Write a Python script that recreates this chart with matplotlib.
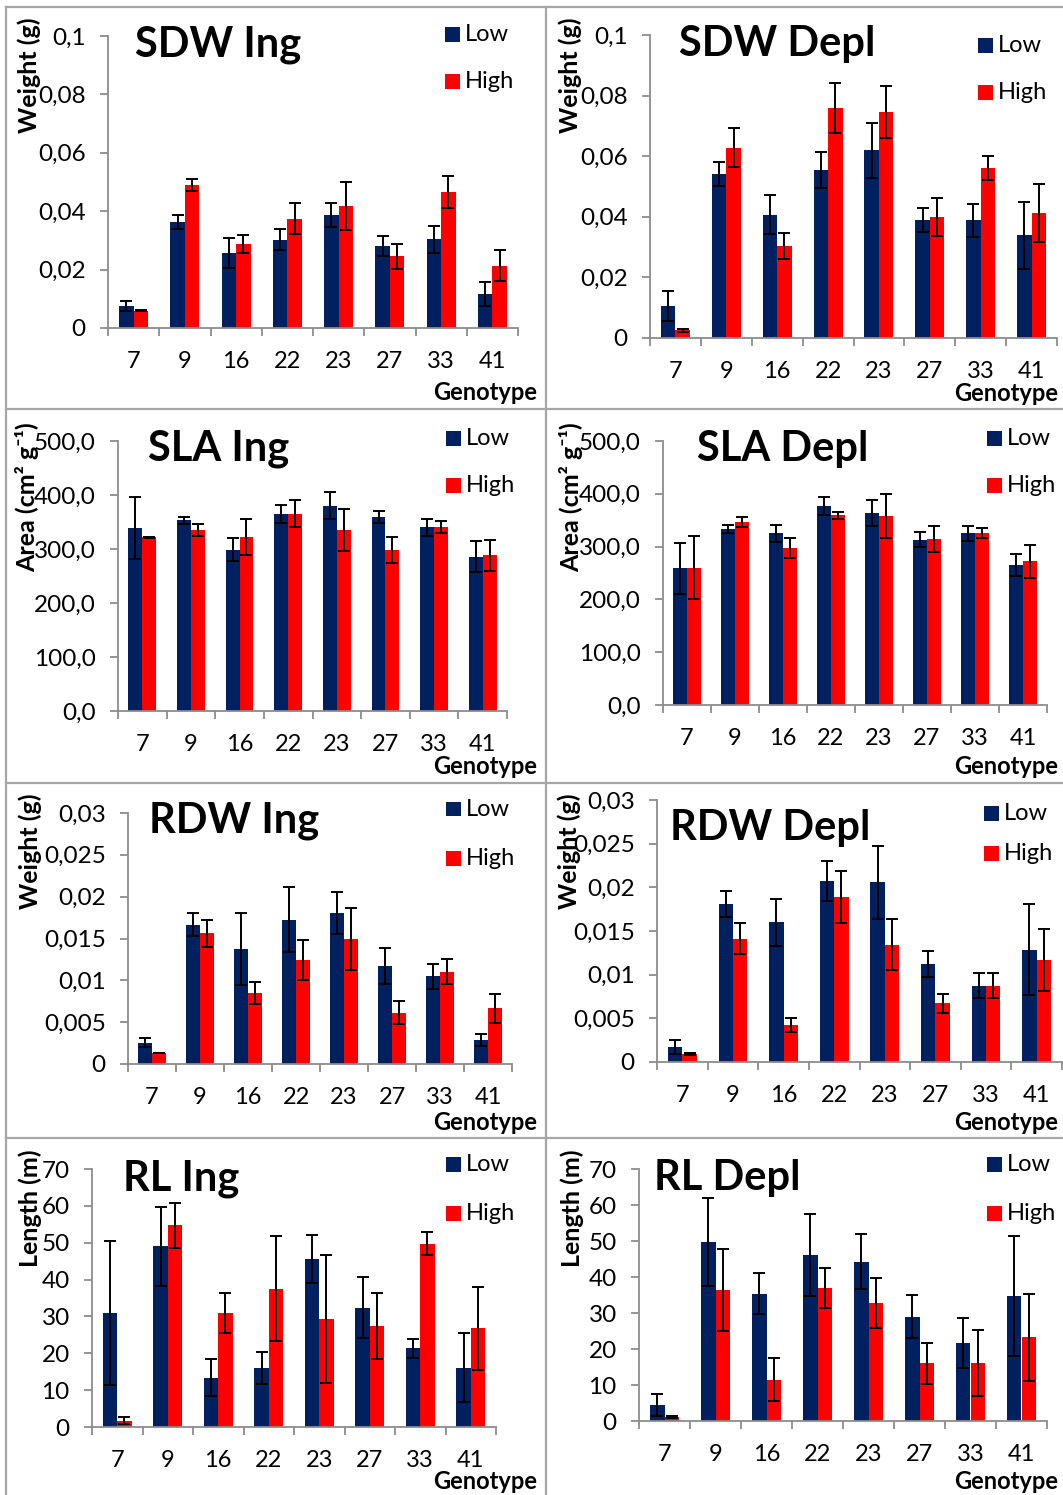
import matplotlib
matplotlib.use('Agg')
import matplotlib.pyplot as plt
from matplotlib.patches import Rectangle
from matplotlib.lines import Line2D
import numpy as np

plt.rcParams['font.family'] = ['Lato', 'DejaVu Sans']

# ---------------- data ----------------
genotypes = ['7', '9', '16', '22', '23', '27', '33', '41']

sdw_ing_low = [0.0076, 0.0363, 0.0257, 0.0303, 0.0387, 0.0282, 0.0304, 0.0117]
sdw_ing_low_err = [0.0018, 0.0025, 0.0050, 0.0035, 0.0040, 0.0034, 0.0046, 0.0040]
sdw_ing_high = [0.0059, 0.0489, 0.0287, 0.0375, 0.0417, 0.0245, 0.0466, 0.0214]
sdw_ing_high_err = [0.0002, 0.0020, 0.0030, 0.0053, 0.0082, 0.0042, 0.0054, 0.0053]

sdw_depl_low = [0.0105, 0.0542, 0.0407, 0.0554, 0.0619, 0.0390, 0.0388, 0.0339]
sdw_depl_low_err = [0.0050, 0.0040, 0.0065, 0.0060, 0.0091, 0.0040, 0.0055, 0.0110]
sdw_depl_high = [0.0025, 0.0628, 0.0304, 0.0759, 0.0747, 0.0399, 0.0561, 0.0412]
sdw_depl_high_err = [0.0004, 0.0064, 0.0043, 0.0081, 0.0086, 0.0064, 0.0040, 0.0095]

sla_ing_low = [339, 353, 299, 365, 380, 360, 340, 286]
sla_ing_low_err = [57, 6, 21, 16, 25, 11, 15, 28]
sla_ing_high = [322, 335, 322, 365, 335, 299, 341, 288]
sla_ing_high_err = [1, 11, 34, 25, 39, 24, 11, 29]

sla_depl_low = [259, 333, 325, 376, 364, 313, 325, 265]
sla_depl_low_err = [48, 8, 16, 17, 25, 14, 14, 21]
sla_depl_high = [260, 347, 298, 359, 358, 314, 326, 272]
sla_depl_high_err = [60, 9, 19, 7, 42, 25, 9, 31]

rdw_ing_low = [0.00255, 0.01665, 0.01375, 0.01725, 0.01809, 0.01171, 0.01048, 0.00291]
rdw_ing_low_err = [0.0005, 0.0014, 0.0043, 0.0039, 0.0025, 0.0021, 0.0015, 0.0007]
rdw_ing_high = [0.00131, 0.01562, 0.00845, 0.01239, 0.01498, 0.00614, 0.01104, 0.00665]
rdw_ing_high_err = [0.00005, 0.0016, 0.0013, 0.0024, 0.0037, 0.0014, 0.0015, 0.0017]

rdw_depl_low = [0.00172, 0.01813, 0.01599, 0.02069, 0.02057, 0.01126, 0.00874, 0.01286]
rdw_depl_low_err = [0.0008, 0.0015, 0.0027, 0.0023, 0.0042, 0.0015, 0.0014, 0.0052]
rdw_depl_high = [0.00088, 0.01412, 0.00420, 0.01889, 0.01344, 0.00672, 0.00874, 0.01168]
rdw_depl_high_err = [0.0001, 0.0018, 0.0008, 0.0030, 0.0029, 0.0011, 0.0014, 0.0035]

rl_ing_low = [31.0, 49.0, 13.4, 16.1, 45.7, 32.4, 21.3, 16.1]
rl_ing_low_err = [19.5, 10.7, 5.0, 4.3, 6.5, 8.2, 2.5, 9.4]
rl_ing_high = [1.7, 54.7, 31.0, 37.5, 29.4, 27.4, 49.7, 26.8]
rl_ing_high_err = [1.0, 6.2, 5.4, 14.2, 17.4, 8.9, 3.1, 11.2]

rl_depl_low = [4.4, 49.7, 35.4, 46.1, 44.3, 29.0, 21.7, 34.7]
rl_depl_low_err = [3.1, 12.3, 5.6, 11.3, 7.7, 6.0, 7.0, 16.6]
rl_depl_high = [1.1, 36.3, 11.5, 36.9, 32.7, 16.1, 16.2, 23.2]
rl_depl_high_err = [0.2, 11.4, 5.9, 5.6, 6.9, 5.7, 9.2, 12.0]

sdw_ticks = [0, 0.02, 0.04, 0.06, 0.08, 0.1]
sdw_ticklabels = ['0', '0,02', '0,04', '0,06', '0,08', '0,1']
sla_ticks = [0, 100, 200, 300, 400, 500]
sla_ticklabels = ['0,0', '100,0', '200,0', '300,0', '400,0', '500,0']
rdw_ticks = [0, 0.005, 0.01, 0.015, 0.02, 0.025, 0.03]
rdw_ticklabels = ['0', '0,005', '0,01', '0,015', '0,02', '0,025', '0,03']
rl_ticks = [0, 10, 20, 30, 40, 50, 60, 70]
rl_ticklabels = ['0', '10', '20', '30', '40', '50', '60', '70']

series_labels = ['Low', 'High']
xlabel_text = 'Genotype'

# ---------------- layout ----------------
W, H = 1063, 1495
fig = plt.figure(figsize=(W / 100, H / 100), dpi=100)
fig.patch.set_facecolor('white')

def fx(x):
    return x / W

def fy(y):
    return 1 - y / H

LOW_C = '#002060'
HIGH_C = '#FF0000'
AXC = '#8C8C8C'

panels = [
    ('SDW Ing', 'Weight (g)', sdw_ing_low, sdw_ing_low_err, sdw_ing_high, sdw_ing_high_err,
     sdw_ticks, sdw_ticklabels, (108, 36, 518, 328), (218, 57), (29, 75), (445, 27, 74), (537, 400)),
    ('SDW Depl', 'Weight (g)', sdw_depl_low, sdw_depl_low_err, sdw_depl_high, sdw_depl_high_err,
     sdw_ticks, sdw_ticklabels, (650, 35, 1057, 338), (777, 56), (570, 75), (978, 38, 85), (1058, 401)),
    ('SLA Ing', 'Area (cm² g⁻¹)', sla_ing_low, sla_ing_low_err, sla_ing_high, sla_ing_high_err,
     sla_ticks, sla_ticklabels, (118, 441, 507, 711), (219, 461), (27, 497), (446, 431, 478), (537, 774)),
    ('SLA Depl', 'Area (cm² g⁻¹)', sla_depl_low, sla_depl_low_err, sla_depl_high, sla_depl_high_err,
     sla_ticks, sla_ticklabels, (663, 441, 1047, 705), (783, 461), (571, 497), (987, 431, 478), (1058, 774)),
    ('RDW Ing', 'Weight (g)', rdw_ing_low, rdw_ing_low_err, rdw_ing_high, rdw_ing_high_err,
     rdw_ticks, rdw_ticklabels, (128, 813, 512, 1064), (234, 832), (30, 851), (446, 802, 851), (537, 1130)),
    ('RDW Depl', 'Weight (g)', rdw_depl_low, rdw_depl_low_err, rdw_depl_high, rdw_depl_high_err,
     rdw_ticks, rdw_ticklabels, (657, 800, 1062, 1062), (770, 840), (569, 851), (984, 806, 846), (1058, 1130)),
    ('RL Ing', 'Length (m)', rl_ing_low, rl_ing_low_err, rl_ing_high, rl_ing_high_err,
     rl_ticks, rl_ticklabels, (92, 1169, 496, 1427), (181, 1190), (30, 1208), (446, 1157, 1206), (537, 1489)),
    ('RL Depl', 'Length (m)', rl_depl_low, rl_depl_low_err, rl_depl_high, rl_depl_high_err,
     rl_ticks, rl_ticklabels, (639, 1169, 1047, 1421), (727, 1190), (572, 1208), (987, 1157, 1206), (1058, 1489)),
]

# panel borders
border_kw = dict(color='#A6A6A6', lw=1.6, transform=fig.transFigure)
for yy in [7, 409, 783, 1138]:
    fig.add_artist(Line2D([fx(6), fx(1063)], [fy(yy), fy(yy)], **border_kw))
for xx in [6, 546]:
    fig.add_artist(Line2D([fx(xx), fx(xx)], [fy(7), fy(1495)], **border_kw))

x = np.arange(len(genotypes))
bw = 0.285

for (title, ylab, low, lowe, high, highe, ticks, tlabels, (l, t, r, b),
     (tcx, tby), (ycx, ycy), (lgx, lgy1, lgy2), (gx, gy)) in panels:
    ax = fig.add_axes([fx(l), fy(b), (r - l) / W, (b - t) / H])
    ekw = dict(ecolor='black', elinewidth=1.4, capsize=4.5, capthick=1.4)
    ax.bar(x - bw / 2, low, bw, yerr=lowe, color=LOW_C, error_kw=ekw, zorder=2)
    ax.bar(x + bw / 2, high, bw, yerr=highe, color=HIGH_C, error_kw=ekw, zorder=2)
    ax.set_xlim(-0.5, len(genotypes) - 0.5)
    ax.set_ylim(ticks[0], ticks[-1])
    ax.set_yticks(ticks)
    ax.set_yticklabels(tlabels)
    ax.set_xticks(np.arange(len(genotypes) + 1) - 0.5)
    ax.set_xticklabels([])
    ax.set_xticks(x, minor=True)
    ax.set_xticklabels(genotypes, minor=True)
    for s in ['top', 'right']:
        ax.spines[s].set_visible(False)
    for s in ['left', 'bottom']:
        ax.spines[s].set_color(AXC)
        ax.spines[s].set_linewidth(1.3)
    ax.tick_params(axis='y', which='major', direction='out', length=6, width=1.3,
                   color=AXC, labelsize=17.5, pad=10, labelcolor='black')
    ax.tick_params(axis='x', which='major', direction='out', length=6, width=1.3, color=AXC)
    ax.tick_params(axis='x', which='minor', length=0, labelsize=17, pad=16.5, labelcolor='black')
    ax.patch.set_alpha(0)

    fig.text(fx(tcx), fy(tby), title, ha='center', va='baseline',
             fontsize=30, fontweight='bold')
    fig.text(fx(ycx), fy(ycy), ylab, ha='center', va='center', rotation=90,
             fontsize=18, fontweight='bold')
    fig.text(fx(gx), fy(gy), xlabel_text, ha='right', va='baseline',
             fontsize=17, fontweight='bold')
    for yy, lab, col in [(lgy1, series_labels[0], LOW_C), (lgy2, series_labels[1], HIGH_C)]:
        fig.add_artist(Rectangle((fx(lgx), fy(yy + 14.5)), 14.5 / W, 14.5 / H,
                                 transform=fig.transFigure, facecolor=col, edgecolor='none'))
        fig.text(fx(lgx + 20), fy(yy + 7.5), lab, ha='left', va='center', fontsize=17)

fig.savefig('out.png', dpi=100)
